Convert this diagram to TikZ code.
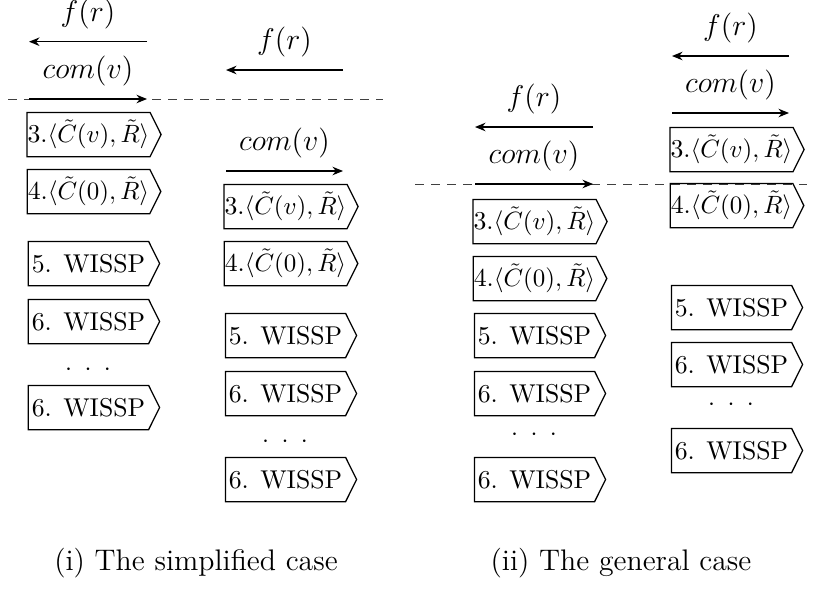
\documentclass[tikz,border=0pt]{standalone}
\usetikzlibrary{arrows.meta}
\begin{document}
\begin{tikzpicture}[x=0.4pt,y=-0.4pt,line width=0.5pt,
  boxnode/.style={minimum width=47.6pt,minimum height=17.2pt,inner sep=0pt,font=\fontsize{10.3}{12}\selectfont},
  dotsnode/.style={inner sep=0pt,font=\fontsize{10}{12}\selectfont},
  lbl/.style={inner sep=0pt,above=5pt,font=\fontsize{11.5}{13}\selectfont},
  msg/.style={-{Stealth[length=4.2pt,width=3.4pt]}},
  sepline/.style={draw=black!75,line width=0.4pt,dash pattern=on 3.4pt off 3pt},
  capnode/.style={inner sep=0pt,font=\fontsize{11.9}{14}\selectfont}]
\useasboundingbox (0,0) rectangle (814,588);
\newcommand{\cdotsrow}{${\cdot}\hspace{5pt}{\cdot}\hspace{5pt}{\cdot}$}
% ---------- dashed separators (drawn first, below the arrows) ----------
\coordinate (sepAl) at (8,99);
\coordinate (sepAr) at (383,99);
\coordinate (sepCl) at (415,184);
\coordinate (sepCr) at (807,184);
\draw[sepline] (sepAl) -- (sepAr);
\draw[sepline] (sepCl) -- (sepCr);
% ---------- column A ----------
\coordinate (aFr) at (147,41.7);
\coordinate (aFl) at (29,41.7);
\coordinate (aCl) at (29,99);
\coordinate (aCr) at (147,99);
\draw[msg] (aFr) -- (aFl) node[midway,lbl] {$f(r)$};
\draw[msg] (aCl) -- (aCr) node[midway,lbl] {$com(v)$};
\node[boxnode] (a3) at (88.5,134.5) {3.$\langle\tilde{C}(v),\tilde{R}\rangle$};
\node[boxnode] (a4) at (88.5,191.5) {4.$\langle\tilde{C}(0),\tilde{R}\rangle$};
\node[boxnode] (a5) at (88.5,263.5) {5. WISSP};
\node[boxnode] (a6) at (88.5,321.5) {6. WISSP};
\node[dotsnode] (adots) at (88,370) {\cdotsrow};
\node[boxnode] (a7) at (88.5,407.5) {6. WISSP};
% ---------- column B ----------
\coordinate (bFr) at (343,70);
\coordinate (bFl) at (226,70);
\coordinate (bCl) at (226,171);
\coordinate (bCr) at (343,171);
\draw[msg] (bFr) -- (bFl) node[midway,lbl] {$f(r)$};
\draw[msg] (bCl) -- (bCr) node[midway,lbl] {$com(v)$};
\node[boxnode] (b3) at (285.5,206.5) {3.$\langle\tilde{C}(v),\tilde{R}\rangle$};
\node[boxnode] (b4) at (285.5,263.5) {4.$\langle\tilde{C}(0),\tilde{R}\rangle$};
\node[boxnode] (b5) at (285.5,335.5) {5. WISSP};
\node[boxnode] (b6) at (285.5,393.5) {6. WISSP};
\node[dotsnode] (bdots) at (285,442) {\cdotsrow};
\node[boxnode] (b7) at (285.5,479.5) {6. WISSP};
% ---------- column C ----------
\coordinate (cFr) at (593,127);
\coordinate (cFl) at (475,127);
\coordinate (cCl) at (475,184);
\coordinate (cCr) at (593,184);
\draw[msg] (cFr) -- (cFl) node[midway,lbl] {$f(r)$};
\draw[msg] (cCl) -- (cCr) node[midway,lbl] {$com(v)$};
\node[boxnode] (c3) at (534.5,221.5) {3.$\langle\tilde{C}(v),\tilde{R}\rangle$};
\node[boxnode] (c4) at (534.5,278.5) {4.$\langle\tilde{C}(0),\tilde{R}\rangle$};
\node[boxnode] (c5) at (534.5,335.5) {5. WISSP};
\node[boxnode] (c6) at (534.5,393.5) {6. WISSP};
\node[dotsnode] (cdots) at (534,435) {\cdotsrow};
\node[boxnode] (c7) at (534.5,479.5) {6. WISSP};
% ---------- column D ----------
\coordinate (dFr) at (789,56);
\coordinate (dFl) at (672,56);
\coordinate (dCl) at (672,113);
\coordinate (dCr) at (789,113);
\draw[msg] (dFr) -- (dFl) node[midway,lbl] {$f(r)$};
\draw[msg] (dCl) -- (dCr) node[midway,lbl] {$com(v)$};
\node[boxnode] (d3) at (731.5,149.5) {3.$\langle\tilde{C}(v),\tilde{R}\rangle$};
\node[boxnode] (d4) at (731.5,205.5) {4.$\langle\tilde{C}(0),\tilde{R}\rangle$};
\node[boxnode] (d5) at (731.5,307.5) {5. WISSP};
\node[boxnode] (d6) at (731.5,364.5) {6. WISSP};
\node[dotsnode] (ddots) at (731,405) {\cdotsrow};
\node[boxnode] (d7) at (731.5,450.5) {6. WISSP};
% ---------- box outlines ----------
\foreach \n in {a3,a4,a5,a6,a7,b3,b4,b5,b6,b7,c3,c4,c5,c6,c7,d3,d4,d5,d6,d7}
  \draw (\n.north west) -- (\n.north east) -- ([xshift=4.4pt]\n.east) -- (\n.south east) -- (\n.south west) -- cycle;
% ---------- captions ----------
\node[capnode] (capi) at (196,563) {(i) The simplified case};
\node[capnode] (capii) at (621,563) {(ii) The general case};
\end{tikzpicture}
\end{document}
